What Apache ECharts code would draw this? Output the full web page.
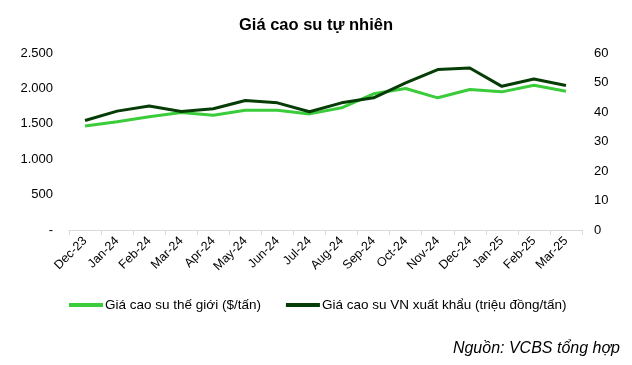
<!DOCTYPE html>
<html>
<head>
<meta charset="utf-8">
<script src="https://cdn.jsdelivr.net/npm/echarts@6/dist/echarts.min.js"></script>
<style>html,body{margin:0;padding:0;background:#fff}#c{width:632px;height:365px}</style>
</head>
<body>
<div id="c"></div>
<script>
const categories = ['Dec-23','Jan-24','Feb-24','Mar-24','Apr-24','May-24','Jun-24','Jul-24','Aug-24','Sep-24','Oct-24','Nov-24','Dec-24','Jan-25','Feb-25','Mar-25'];
const worldPrice = [1470,1530,1600,1660,1620,1690,1690,1640,1726,1923,1998,1867,1984,1951,2044,1960];
const vnExportPrice = [37.1,40.3,42.0,40.2,41.1,43.9,43.1,40.1,43.1,44.8,49.9,54.4,54.9,48.7,51.2,49.0];
const leftTicks = [0,500,1000,1500,2000,2500];
const rightTicks = [0,10,20,30,40,50,60];
const seriesNames = ['Giá cao su thế giới ($/tấn)','Giá cao su VN xuất khẩu (triệu đồng/tấn)'];

const chart = echarts.init(document.getElementById('c'), null, {renderer:'canvas'});
const font = 'Arial, "Liberation Sans", sans-serif';
function fmtLeft(v){ if(v===0) return '-'; return String(v).replace(/\B(?=(\d{3})+(?!\d))/g,'.'); }
chart.setOption({
  backgroundColor:'#ffffff',
  animation:false,
  title:{text:'Giá cao su tự nhiên', left:'center', top:12, textStyle:{fontFamily:font,fontSize:16.5,fontWeight:'bold',color:'#000'}},
  grid:{left:69,right:50,top:53,bottom:135},
  legend:{
    left:64, top:293, itemGap:25, itemWidth:34, itemHeight:4, icon:'rect',
    textStyle:{fontFamily:font,fontSize:13.5,color:'#000',padding:[0,0,0,-3]},
    data:seriesNames
  },
  xAxis:{
    type:'category', data:categories, boundaryGap:true,
    axisLine:{lineStyle:{color:'#d9d9d9',width:1}},
    axisTick:{show:true,length:5,lineStyle:{color:'#d9d9d9'}},
    axisLabel:{rotate:45,fontFamily:font,fontSize:12.5,color:'#000',margin:9,interval:0}
  },
  yAxis:[
    {type:'value',min:0,max:2500,interval:500,
     axisLine:{show:false},axisTick:{show:false},splitLine:{show:false},
     axisLabel:{fontFamily:font,fontSize:13,color:'#000',margin:16,formatter:fmtLeft}},
    {type:'value',min:0,max:60,interval:10,position:'right',
     axisLine:{show:false},axisTick:{show:false},splitLine:{show:false},
     axisLabel:{fontFamily:font,fontSize:13,color:'#000',margin:12}}
  ],
  series:[
    {name:seriesNames[0],type:'line',yAxisIndex:0,data:worldPrice,symbol:'none',
     lineStyle:{color:'#3acc3a',width:3},itemStyle:{color:'#3acc3a'},z:2},
    {name:seriesNames[1],type:'line',yAxisIndex:1,data:vnExportPrice,symbol:'none',
     lineStyle:{color:'#063d06',width:3},itemStyle:{color:'#063d06'},z:3}
  ],
  graphic:[{type:'text',right:12,top:341,style:{text:'Nguồn: VCBS tổng hợp',font:'italic 16px Arial, "Liberation Sans", sans-serif',fill:'#000'}}]
});
</script>
</body>
</html>
